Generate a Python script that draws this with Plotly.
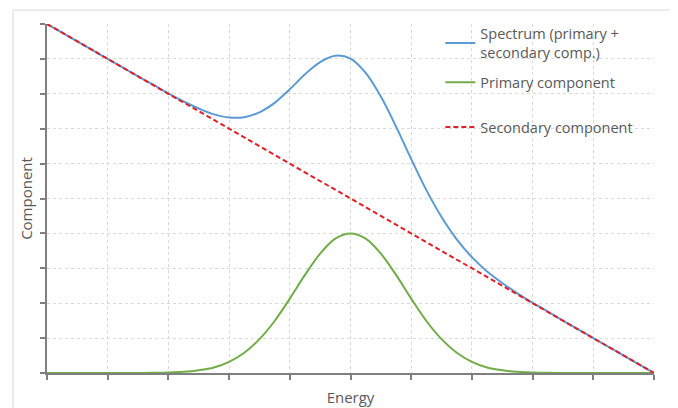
import plotly.graph_objects as go

# Energy axis positions (arbitrary units 0..10)
energy = [0.0, 0.25, 0.5, 0.75, 1.0, 1.25, 1.5, 1.75, 2.0, 2.25, 2.5, 2.75, 3.0, 3.25,
          3.5, 3.75, 4.0, 4.25, 4.5, 4.75, 5.0, 5.25, 5.5, 5.75, 6.0, 6.25, 6.5, 6.75,
          7.0, 7.25, 7.5, 7.75, 8.0, 8.25, 8.5, 8.75, 9.0, 9.25, 9.5, 9.75, 10.0]

spectrum = [10.00, 9.75, 9.50, 9.25, 9.00, 8.75, 8.50, 8.26, 8.01, 7.78, 7.58, 7.41, 7.32, 7.33,
            7.47, 7.74, 8.13, 8.56, 8.91, 9.09, 9.01, 8.60, 7.92, 7.06, 6.13, 5.24, 4.47, 3.83,
            3.32, 2.91, 2.58, 2.28, 2.01, 1.76, 1.50, 1.25, 1.00, 0.75, 0.50, 0.25, 0.00]

primary = [0.0, 0.0, 0.0, 0.0, 0.0, 0.0, 0.002, 0.005, 0.014, 0.034, 0.08, 0.16, 0.32, 0.58,
           0.97, 1.49, 2.13, 2.81, 3.42, 3.85, 4.00, 3.85, 3.42, 2.81, 2.13, 1.49, 0.97, 0.58,
           0.32, 0.16, 0.08, 0.034, 0.014, 0.005, 0.002, 0.0, 0.0, 0.0, 0.0, 0.0, 0.0]

secondary_x = [0.0, 10.0]
secondary = [10.0, 0.0]

names = ["Spectrum (primary +<br>secondary comp.)", "Primary component", "Secondary component"]
colors = ["#5B9BD5", "#70AD47", "#E41E26"]

fig = go.Figure()
fig.add_trace(go.Scatter(x=energy, y=spectrum, mode="lines", name=names[0],
                         line=dict(color=colors[0], width=2, shape="spline", smoothing=1.0),
                         legendgroup="a", legend="legend"))
fig.add_trace(go.Scatter(x=energy, y=primary, mode="lines", name=names[1],
                         line=dict(color=colors[1], width=2, shape="spline", smoothing=1.0),
                         legendgroup="b", legend="legend"))
fig.add_trace(go.Scatter(x=secondary_x, y=secondary, mode="lines", name=names[2],
                         line=dict(color=colors[2], width=2, dash="5px,3px"),
                         legendgroup="c", legend="legend2"))

font_family = "Open Sans, Lato, Noto Sans, sans-serif"
legend_font = dict(size=14.5, color="#595959", family=font_family)

fig.update_layout(
    width=678, height=408,
    margin=dict(l=39, r=32, t=16, b=43, autoexpand=False),
    paper_bgcolor="white", plot_bgcolor="white",
    font=dict(family=font_family, color="#595959", size=14),
    showlegend=True,
    legend=dict(x=0.648, y=0.9765, xanchor="left", yanchor="top", yref="container",
                bgcolor="rgba(255,255,255,0)", tracegroupgap=8,
                font=legend_font, itemwidth=30),
    legend2=dict(x=0.648, y=0.7475, xanchor="left", yanchor="top", yref="container",
                 bgcolor="rgba(255,255,255,0)",
                 font=legend_font, itemwidth=30),
    xaxis=dict(range=[0, 10], dtick=1, tick0=0, showticklabels=False,
               showgrid=True, gridcolor="#D9D9D9", griddash="dot", gridwidth=1,
               showline=True, linecolor="#7F7F7F", linewidth=1.5,
               ticks="outside", ticklen=5, tickcolor="#7F7F7F", tickwidth=1.5,
               zeroline=False,
               title=dict(text="Energy", font=dict(size=15, color="#595959"), standoff=14)),
    yaxis=dict(range=[0, 10], dtick=1, tick0=0, showticklabels=False,
               showgrid=True, gridcolor="#D9D9D9", griddash="dot", gridwidth=1,
               showline=True, linecolor="#7F7F7F", linewidth=1.5,
               ticks="outside", ticklen=5, tickcolor="#7F7F7F", tickwidth=1.5,
               zeroline=False,
               title=dict(text="Component", font=dict(size=15, color="#595959"), standoff=4)),
    shapes=[
        dict(type="rect", xref="paper", yref="paper", x0=-0.056, x1=1.028, y0=-0.12, y1=1.04,
             line=dict(color="#D9D9D9", width=1), fillcolor="rgba(0,0,0,0)", layer="below"),
        dict(type="rect", xref="paper", yref="paper", x0=0.616, x1=1.01, y0=0.602, y1=1.01,
             line=dict(width=0), fillcolor="white", layer="between"),
    ],
)

fig.write_html("out.html")
